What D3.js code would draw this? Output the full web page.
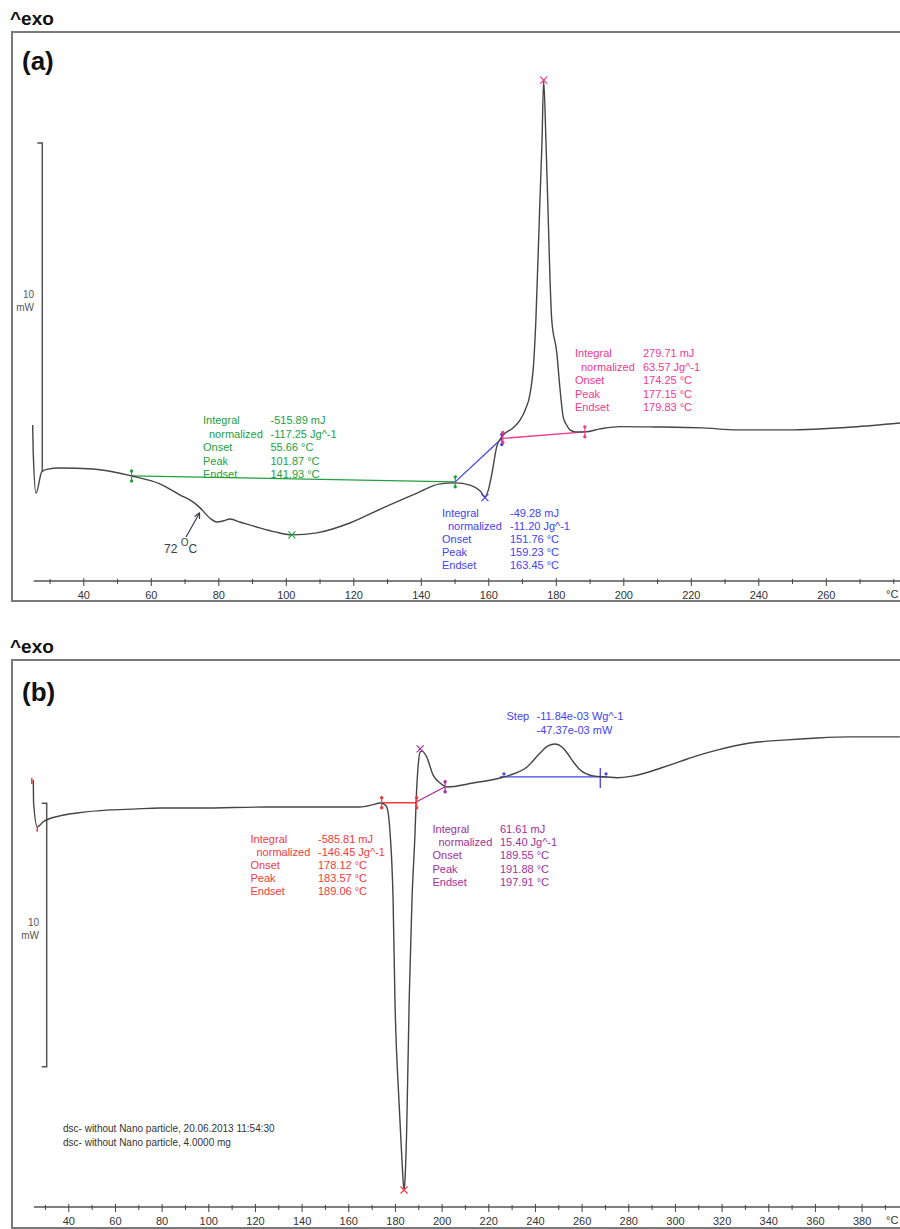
<!DOCTYPE html>
<html>
<head>
<meta charset="utf-8">
<script src="https://cdn.jsdelivr.net/npm/d3@7"></script>
<style>
  body { margin: 0; background: #fff; }
  svg { display: block; font-family: "Liberation Sans", Arial, sans-serif; }
</style>
</head>
<body>
<script>
// ---- data (temperature in °C, heat flow in mW) ----

// panel (a)
const ticksA = [40, 60, 80, 100, 120, 140, 160, 180, 200, 220, 240, 260];
const minorA = [30, 50, 70, 90, 110, 130, 150, 170, 190, 210, 230, 250, 270, 280];
const curveA = [
  [25.0, 1.43], [25.16, 0.61], [26.0, -0.65], [27.7, 0.01], [29.2, 0.08], [33.1, 0.12],
  [42.9, 0.09], [54.3, -0.12], [62.7, -0.36], [68.7, -0.70], [72.5, -0.91], [74.6, -1.09],
  [77.5, -1.40], [79.6, -1.52], [81.4, -1.49], [83.5, -1.43], [86.4, -1.52], [92.3, -1.70],
  [96.8, -1.82], [101.8, -1.91], [109.2, -1.85], [119.0, -1.55], [128.8, -1.09],
  [138.9, -0.64], [145.7, -0.36], [150.2, -0.33], [154.6, -0.40], [157.6, -0.58],
  [159.0, -0.75], [160.0, -0.55], [161.1, -0.03], [162.5, 0.77], [164.0, 1.07],
  [167.3, 1.34], [169.4, 1.58], [170.9, 1.88], [172.4, 2.40], [173.5, 3.40], [174.1, 4.62],
  [175.3, 8.27], [175.9, 10.0], [176.4, 11.91], [177.1, 10.0], [177.6, 8.27], [178.8, 4.62],
  [180.3, 3.62], [181.2, 2.58], [182.2, 1.67], [183.2, 1.43], [184.2, 1.28], [185.7, 1.22],
  [188.6, 1.22], [193.1, 1.31], [199.0, 1.38], [208.8, 1.37], [223.6, 1.34], [233.7, 1.28],
  [248.5, 1.28], [268.0, 1.37], [282.0, 1.49]
];
const greenBaseA = [[54.3, -0.12], [150.2, -0.30]];
const blueBaseA = [[150.2, -0.30], [164.0, 1.02]];
const pinkBaseA = [[164.3, 1.02], [188.6, 1.22]];
const greenPeakA = [101.8, -1.91];
const bluePeakA = [159.0, -0.75];
const pinkPeakA = [176.4, 11.91];
const greenTextA = [["Integral", "-515.89 mJ"], ["normalized", "-117.25 Jg^-1"], ["Onset", "55.66 °C"], ["Peak", "101.87 °C"], ["Endset", "141.93 °C"]];
const blueTextA = [["Integral", "-49.28 mJ"], ["normalized", "-11.20 Jg^-1"], ["Onset", "151.76 °C"], ["Peak", "159.23 °C"], ["Endset", "163.45 °C"]];
const pinkTextA = [["Integral", "279.71 mJ"], ["normalized", "63.57 Jg^-1"], ["Onset", "174.25 °C"], ["Peak", "177.15 °C"], ["Endset", "179.83 °C"]];

// panel (b)
const ticksB = [40, 60, 80, 100, 120, 140, 160, 180, 200, 220, 240, 260, 280, 300, 320, 340, 360, 380];
const minorB = [30, 50, 70, 90, 110, 130, 150, 170, 190, 210, 230, 250, 270, 290, 310, 330, 350, 370, 390];
const curveB = [
  [25.0, 0.88], [25.1, 0.06], [26.7, -0.89], [29.3, -0.70], [36.4, -0.48], [43.6, -0.37],
  [57.9, -0.25], [67.7, -0.22], [79.3, -0.18], [96.4, -0.18], [125.2, -0.14], [152.2, -0.14],
  [165.0, -0.14], [170.2, -0.06], [173.6, 0.01], [175.3, -0.03], [176.5, -0.14], [177.9, -1.12],
  [179.2, -3.67], [180.0, -7.47], [181.7, -11.27], [183.0, -13.55], [183.9, -14.68],
  [184.3, -14.3], [185.0, -12.5], [186.1, -7.47], [187.3, -3.67], [188.6, -1.12], [189.1, 0.13],
  [189.9, 1.38], [190.8, 1.95], [191.6, 1.98], [193.6, 1.76], [196.3, 1.08], [199.3, 0.77],
  [202.2, 0.62], [213.5, 0.77], [225.0, 0.96], [229.3, 1.07], [236.6, 1.38], [242.2, 1.91],
  [245.6, 2.18], [248.6, 2.25], [251.6, 2.14], [253.8, 1.91], [256.8, 1.53], [259.3, 1.27],
  [264.9, 1.04], [270.9, 1.00], [275.2, 0.97], [281.0, 1.02], [287.0, 1.14], [294.0, 1.34],
  [302.0, 1.58], [310.0, 1.82], [318.0, 2.02], [332.1, 2.29], [346.3, 2.40], [360.8, 2.48],
  [375.0, 2.52], [396.4, 2.52]
];
const redBaseB = [[174.3, 0.02], [189.3, 0.02]];
const purpleBaseB = [[189.3, 0.06], [201.5, 0.63]];
const blueBaseB = [[225.0, 1.0], [270.9, 1.0]];
const blueStepB = [268.0, 0.58, 1.34];
const redPeakB = [183.9, -14.68];
const purplePeakB = [190.8, 2.03];
const redTextB = [["Integral", "-585.81 mJ"], ["normalized", "-146.45 Jg^-1"], ["Onset", "178.12 °C"], ["Peak", "183.57 °C"], ["Endset", "189.06 °C"]];
const purpleTextB = [["Integral", "61.61 mJ"], ["normalized", "15.40 Jg^-1"], ["Onset", "189.55 °C"], ["Peak", "191.88 °C"], ["Endset", "197.91 °C"]];
const stepTextB = [["Step", "-11.84e-03 Wg^-1"], ["", "-47.37e-03 mW"]];
const sampleInfo = ["dsc- without Nano particle, 20.06.2013 11:54:30", "dsc- without Nano particle, 4.0000 mg"];

// ---- colours ----
const cCurve = "#454545";
const cGreen = "#22a040", cBlue = "#4242f0", cPink = "#f2388f", cRed = "#f23a3a", cPurple = "#a2309c";

const svg = d3.select("body").append("svg")
  .attr("width", 900)
  .attr("height", 1229);

svg.append("defs").append("clipPath").attr("id", "clip")
  .append("rect").attr("x", 0).attr("y", 0).attr("width", 900).attr("height", 1229);

// scales
var xA = d3.scaleLinear().domain([40, 260]).range([83.3, 825.8]);
var yA = d3.scaleLinear().domain([0, 10]).range([472, 143]);
var xB = d3.scaleLinear().domain([40, 380]).range([68.3, 861.6]);
var yB = d3.scaleLinear().domain([0, -10]).range([803.3, 1066.7]);

function panel(top, bottom, label, labelY) {
  svg.append("text").attr("x", 10).attr("y", top - 7)
    .attr("font-size", "19px").attr("font-weight", "bold").attr("fill", "#111")
    .text("^exo");
  svg.append("rect").attr("x", 12).attr("y", top).attr("width", 900).attr("height", bottom - top)
    .attr("fill", "none").attr("stroke", "#7a7a7a").attr("stroke-width", 2);
  svg.append("text").attr("x", 22).attr("y", labelY)
    .attr("font-size", "26px").attr("font-weight", "bold").attr("fill", "#111")
    .text(label);
}

function xAxis(x, yPos, ticks, minor, start) {
  var g = svg.append("g").attr("transform", "translate(0," + yPos + ")");
  g.append("line").attr("x1", x(start)).attr("x2", 900).attr("y1", 0).attr("y2", 0)
    .attr("stroke", "#555").attr("stroke-width", 1.6);
  var ax = g.append("g")
    .call(d3.axisBottom(x).tickValues(ticks).tickSize(5).tickPadding(5).tickFormat(d3.format("d")));
  ax.select(".domain").remove();
  ax.selectAll("line").attr("stroke", "#444").attr("y1", -3);
  ax.selectAll("text").attr("font-size", "11px").attr("fill", "#333").attr("font-family", "Liberation Sans, Arial, sans-serif");
  var mn = g.append("g")
    .call(d3.axisBottom(x).tickValues(minor).tickSize(3).tickFormat(""));
  mn.select(".domain").remove();
  mn.selectAll("line").attr("stroke", "#444").attr("y1", -2);
  // unit label at the right end of the axis
  g.append("text").attr("x", 886).attr("y", 17).attr("font-size", "11px").attr("fill", "#333").text("°C");
}

function scaleBar(yScale, xPos, lo, hi, hookBottom, textX, textY) {
  var g = svg.append("g").attr("stroke", "#555").attr("stroke-width", 1.5).attr("fill", "none");
  var pts = [[xPos - 5, yScale(hi)], [xPos, yScale(hi)], [xPos, yScale(lo)]];
  if (hookBottom) pts.push([xPos - 5, yScale(lo)]);
  g.append("path").attr("d", d3.line()(pts));
  svg.append("text").attr("x", textX).attr("y", textY).attr("text-anchor", "end")
    .attr("font-size", "10px").attr("fill", "#555").text("10");
  svg.append("text").attr("x", textX).attr("y", textY + 13).attr("text-anchor", "end")
    .attr("font-size", "10px").attr("fill", "#555").text("mW");
}

function trace(data, x, y, color, width) {
  svg.append("path").datum(data)
    .attr("clip-path", "url(#clip)")
    .attr("fill", "none").attr("stroke", color).attr("stroke-width", width)
    .attr("d", d3.line().x(d => x(d[0])).y(d => y(d[1])).curve(d3.curveMonotoneX));
}

function baseline(data, x, y, color) {
  svg.append("path").datum(data)
    .attr("fill", "none").attr("stroke", color).attr("stroke-width", 1.3)
    .attr("d", d3.line().x(d => x(d[0])).y(d => y(d[1])));
}

// little integration-limit marker: short bar with dots at both ends
function limit(px, py, color) {
  var g = svg.append("g");
  g.append("line").attr("x1", px).attr("x2", px).attr("y1", py - 6).attr("y2", py + 6)
    .attr("stroke", color).attr("stroke-width", 1.2);
  g.append("circle").attr("cx", px).attr("cy", py - 5).attr("r", 1.7).attr("fill", color);
  g.append("circle").attr("cx", px).attr("cy", py + 5).attr("r", 1.7).attr("fill", color);
}

function cross(px, py, color) {
  svg.append("path")
    .attr("d", "M" + (px - 3.5) + "," + (py - 3.5) + "L" + (px + 3.5) + "," + (py + 3.5) +
               "M" + (px + 3.5) + "," + (py - 3.5) + "L" + (px - 3.5) + "," + (py + 3.5))
    .attr("stroke", color).attr("stroke-width", 1.2);
}

function block(rows, x1, x2, y0, dy, color) {
  rows.forEach((r, i) => {
    svg.append("text").attr("x", r[0] === "normalized" ? x1 + 6 : x1).attr("y", y0 + i * dy)
      .attr("font-size", "11px").attr("fill", color).text(r[0]);
    svg.append("text").attr("x", x2).attr("y", y0 + i * dy)
      .attr("font-size", "11px").attr("fill", color).text(r[1]);
  });
}

// ================= panel (a) =================
panel(32, 601, "(a)", 70);
xAxis(xA, 581, ticksA, minorA, 25.3);
scaleBar(yA, 42.3, 0, 10, false, 34, 298);

baseline(greenBaseA, xA, yA, cGreen);
baseline(blueBaseA, xA, yA, cBlue);
baseline(pinkBaseA, xA, yA, cPink);
trace(curveA, xA, yA, cCurve, 1.4);

limit(xA(greenBaseA[0][0]), yA(greenBaseA[0][1]), cGreen);
limit(xA(greenBaseA[1][0]), yA(greenBaseA[1][1]), cGreen);
limit(xA(blueBaseA[1][0]), yA(blueBaseA[1][1]) + 1, cBlue);
limit(xA(pinkBaseA[0][0]), yA(pinkBaseA[0][1]) - 1, cPink);
limit(xA(pinkBaseA[1][0]), yA(pinkBaseA[1][1]), cPink);
cross(xA(greenPeakA[0]), yA(greenPeakA[1]), cGreen);
cross(xA(bluePeakA[0]), yA(bluePeakA[1]) + 1, cBlue);
cross(xA(pinkPeakA[0]), yA(pinkPeakA[1]), cPink);

block(greenTextA, 203, 270.5, 424, 13.5, cGreen);
block(blueTextA, 442, 510, 517, 13.1, cBlue);
block(pinkTextA, 575, 643, 357, 13.5, cPink);

// 72 °C glass-transition note with arrow
svg.append("path").attr("d", "M186,537L199,514").attr("stroke", "#3c3c4c").attr("stroke-width", 1.2).attr("fill", "none");
svg.append("path").attr("d", "M194.5,516.5L199.5,513L199.5,519").attr("stroke", "#3c3c4c").attr("stroke-width", 1.2).attr("fill", "none");
var t72 = svg.append("text").attr("x", 164).attr("y", 553).attr("font-size", "12px").attr("fill", "#3c3c4c");
t72.append("tspan").text("72 ");
t72.append("tspan").attr("dy", -7).attr("font-size", "10px").text("O");
t72.append("tspan").attr("dy", 7).text("C");

// ================= panel (b) =================
panel(660, 1228, "(b)", 701);
xAxis(xB, 1207, ticksB, minorB, 25.3);
scaleBar(yB, 46.7, -10, 0, true, 39, 926);

baseline(redBaseB, xB, yB, cRed);
baseline(purpleBaseB, xB, yB, cPurple);
baseline(blueBaseB, xB, yB, cBlue);
svg.append("line")
  .attr("x1", xB(blueStepB[0])).attr("x2", xB(blueStepB[0]))
  .attr("y1", yB(blueStepB[2])).attr("y2", yB(blueStepB[1]))
  .attr("stroke", cBlue).attr("stroke-width", 1.3);
trace(curveB, xB, yB, cCurve, 1.4);

// start markers on the first points of the trace
svg.append("line").attr("x1", xB(curveB[0][0]) - 1.5).attr("x2", xB(curveB[0][0]) - 1.5)
  .attr("y1", yB(curveB[0][1]) - 2).attr("y2", yB(curveB[0][1]) + 4).attr("stroke", cRed).attr("stroke-width", 1.5);
svg.append("line").attr("x1", xB(curveB[2][0])).attr("x2", xB(curveB[2][0]))
  .attr("y1", yB(curveB[2][1]) - 1).attr("y2", yB(curveB[2][1]) + 5).attr("stroke", cRed).attr("stroke-width", 1.5);

limit(xB(redBaseB[0][0]), yB(redBaseB[0][1]), cRed);
limit(xB(redBaseB[1][0]), yB(redBaseB[1][1]), cRed);
limit(xB(purpleBaseB[1][0]), yB(purpleBaseB[1][1]), cPurple);
svg.append("circle").attr("cx", xB(blueBaseB[0][0]) + 4).attr("cy", yB(blueBaseB[0][1]) - 3).attr("r", 1.6).attr("fill", cBlue);
svg.append("circle").attr("cx", xB(blueBaseB[1][0]) - 1).attr("cy", yB(blueBaseB[1][1]) - 3).attr("r", 1.6).attr("fill", cBlue);
cross(xB(redPeakB[0]), yB(redPeakB[1]), cRed);
cross(xB(purplePeakB[0]), yB(purplePeakB[1]) - 1, cPurple);

block(redTextB, 250.5, 318, 843, 13, cRed);
block(purpleTextB, 432.5, 500, 833, 13.2, cPurple);
block(stepTextB, 506.5, 536.5, 720, 13.5, cBlue);

sampleInfo.forEach((s, i) => {
  svg.append("text").attr("x", 63).attr("y", 1131.5 + i * 14.5)
    .attr("font-size", "10px").attr("fill", "#333").text(s);
});
</script>
</body>
</html>
